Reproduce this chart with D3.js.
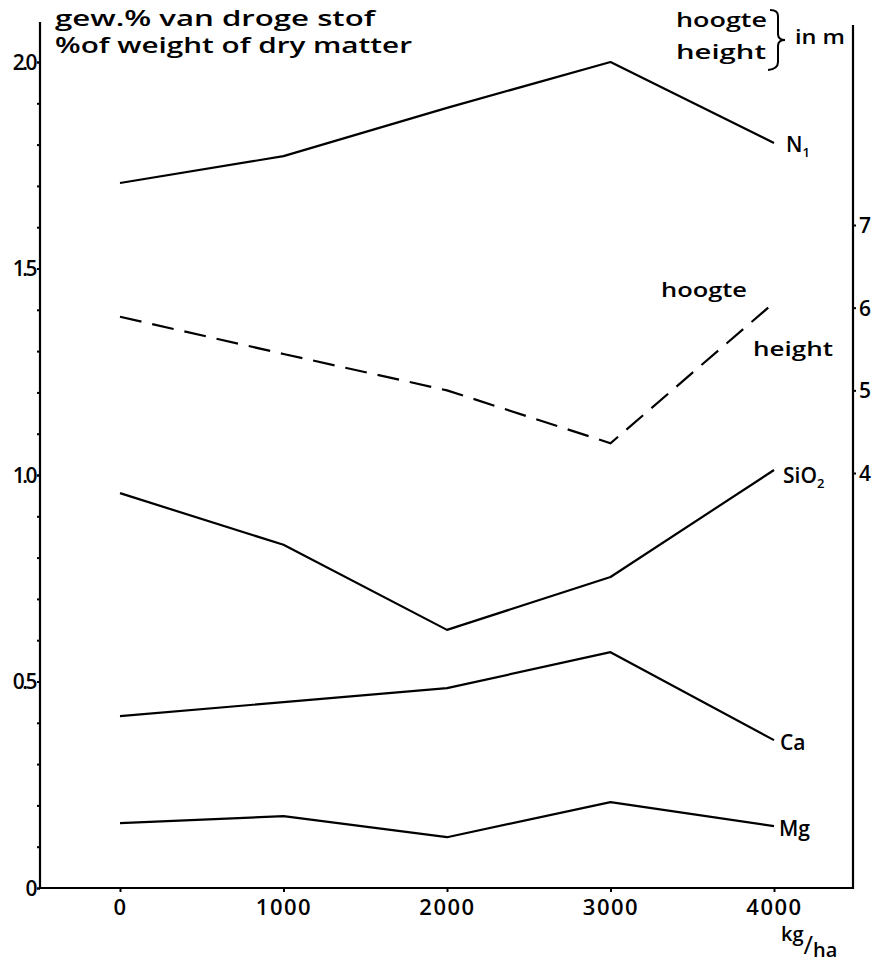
<!DOCTYPE html>
<html><head><meta charset="utf-8">
<script src="https://cdn.jsdelivr.net/npm/d3@7"></script>
<style>
body{margin:0;background:#fff;}
text{font-family:"Open Sans","DejaVu Sans",sans-serif;font-weight:600;fill:#000;}
</style></head>
<body><svg id="c" width="882" height="968"></svg>
<script>
const doses = [0, 1000, 2000, 3000, 4000];
const xTickLabels = ["0", "1000", "2000", "3000", "4000"];
const nValues = [1.707, 1.772, 1.889, 2.0, 1.804];
const sio2Values = [0.956, 0.831, 0.625, 0.753, 1.012];
const caValues = [0.416, 0.450, 0.484, 0.571, 0.358];
const mgValues = [0.157, 0.174, 0.123, 0.208, 0.150];
const heightValues = [5.89, 5.44, 5.00, 4.36, 6.06];
const leftTicks = [0, 0.5, 1.0, 1.5, 2.0];
const leftTickLabels = ["0", "0.5", "1.0", "1.5", "2.0"];
const rightTicks = [4, 5, 6, 7];

const svg = d3.select("#c");
const x = d3.scaleLinear().domain([0, 4000]).range([120, 774]);
const y = d3.scaleLinear().domain([0, 2.0]).range([888, 62]);
const yH = d3.scaleLinear().domain([4, 7]).range([473, 225]);
const leftX = 40, rightX = 853, bottomY = 888, topY = 22;

// left axis
svg.append("line").attr("x1", leftX).attr("x2", leftX).attr("y1", topY).attr("y2", bottomY + 1)
  .attr("stroke", "#000").attr("stroke-width", 2.2);
const minor = d3.range(0, 21).map(d => d / 10);
const lAxisMinor = svg.append("g").attr("transform", `translate(${leftX},0)`)
  .call(d3.axisLeft(y).tickValues(minor).tickSize(3).tickFormat(""));
lAxisMinor.select(".domain").remove();
lAxisMinor.selectAll("line").attr("stroke-width", 2);
const lAxis = svg.append("g").attr("transform", `translate(${leftX},0)`)
  .call(d3.axisLeft(y).tickValues(leftTicks).tickSize(3).tickPadding(2)
    .tickFormat((d, i) => leftTickLabels[i]));
lAxis.select(".domain").remove();
lAxis.selectAll("line").attr("stroke-width", 2);
lAxis.selectAll("text").attr("font-size", 21).attr("letter-spacing", -2.5).attr("dy", "0.35em")
  .attr("font-weight", 400);

// right axis
svg.append("line").attr("x1", rightX).attr("x2", rightX).attr("y1", 25).attr("y2", bottomY + 1)
  .attr("stroke", "#000").attr("stroke-width", 2.2);
const rAxis = svg.append("g").attr("transform", `translate(${rightX},0)`)
  .call(d3.axisRight(yH).tickValues(rightTicks).tickSize(3).tickPadding(3).tickFormat(d3.format("d")));
rAxis.select(".domain").remove();
rAxis.selectAll("line").attr("stroke-width", 2);
rAxis.selectAll("text").attr("font-size", 21).attr("dy", "0.35em");

// bottom axis
svg.append("line").attr("x1", leftX - 1).attr("x2", rightX + 1).attr("y1", bottomY).attr("y2", bottomY)
  .attr("stroke", "#000").attr("stroke-width", 2.2);
const bAxis = svg.append("g").attr("transform", `translate(0,${bottomY})`)
  .call(d3.axisBottom(x).tickValues(doses).tickSize(4).tickPadding(5).tickFormat((d, i) => xTickLabels[i]));
bAxis.select(".domain").remove();
bAxis.selectAll("line").attr("stroke-width", 2);
bAxis.selectAll("text").attr("font-size", 22).attr("letter-spacing", 1.5).attr("dy", "0.8em");

// unit kg/ha
const unit = svg.append("text").attr("x", 781).attr("y", 941).attr("font-size", 20);
unit.append("tspan").text("kg");
unit.append("tspan").attr("dy", 13).attr("font-size", 26).attr("font-weight", 400).text("/");
unit.append("tspan").attr("dy", 3).attr("font-size", 20).text("ha");

// lines
const line = (vals, sc) => d3.line().x((d, i) => x(doses[i])).y(d => sc(d))(vals);
[nValues, sio2Values, caValues, mgValues].forEach(v => {
  svg.append("path").attr("d", line(v, y)).attr("fill", "none").attr("stroke", "#000")
    .attr("stroke-width", 2.2).attr("stroke-linejoin", "round");
});
svg.append("path").attr("d", line(heightValues, yH)).attr("fill", "none").attr("stroke", "#000")
  .attr("stroke-width", 2.2).attr("stroke-dasharray", "22,11");

// series labels
function lab(txt, sub, xx, yy, w) {
  const t = svg.append("text").attr("x", xx).attr("y", yy).attr("font-size", 21);
  t.append("tspan").text(txt);
  if (sub) t.append("tspan").attr("dy", 5).attr("font-size", 13).text(sub);
}
lab("N", "1", 786, 152);
lab("SiO", "2", 783, 483);
lab("Ca", null, 780, 750);
lab("Mg", null, 779, 836);
svg.append("text").attr("x", 661).attr("y", 297).attr("font-size", 20).attr("font-weight", 700)
  .attr("textLength", 86).attr("lengthAdjust", "spacingAndGlyphs").text("hoogte");
svg.append("text").attr("x", 753).attr("y", 356).attr("font-size", 20).attr("font-weight", 700)
  .attr("textLength", 80).attr("lengthAdjust", "spacingAndGlyphs").text("height");

// titles
svg.append("text").attr("x", 55).attr("y", 26).attr("font-size", 21)
  .attr("textLength", 320).attr("lengthAdjust", "spacingAndGlyphs").text("gew.% van droge stof");
svg.append("text").attr("x", 55).attr("y", 53).attr("font-size", 21)
  .attr("textLength", 357).attr("lengthAdjust", "spacingAndGlyphs").text("%of weight of dry matter");
svg.append("text").attr("x", 676).attr("y", 27).attr("font-size", 20).attr("font-weight", 700)
  .attr("textLength", 91).attr("lengthAdjust", "spacingAndGlyphs").text("hoogte");
svg.append("text").attr("x", 676).attr("y", 59).attr("font-size", 20).attr("font-weight", 700)
  .attr("textLength", 90).attr("lengthAdjust", "spacingAndGlyphs").text("height");
svg.append("path").attr("d", "M770,10 Q778,10 778,16 L778,34 Q778,40 785,40 Q778,40 778,46 L778,62 Q778,69 768,70")
  .attr("fill", "none").attr("stroke", "#000").attr("stroke-width", 2);
svg.append("text").attr("x", 795).attr("y", 44).attr("font-size", 20)
  .attr("textLength", 50).attr("lengthAdjust", "spacingAndGlyphs").text("in m");
</script></body></html>
